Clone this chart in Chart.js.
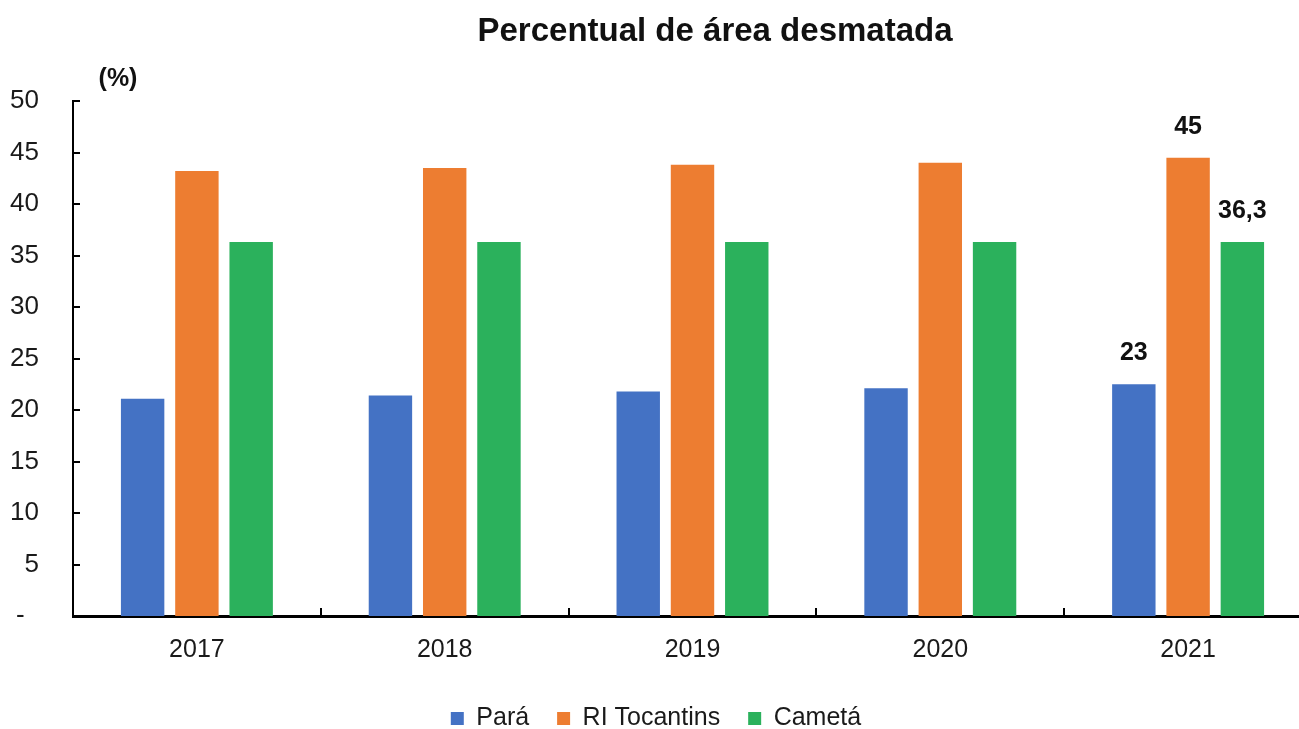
<!DOCTYPE html>
<html>
<head>
<meta charset="utf-8">
<script src="https://cdn.jsdelivr.net/npm/chart.js@4/dist/chart.umd.min.js"></script>
<style>
  html, body { margin: 0; padding: 0; background: #fff; overflow: hidden; }
  canvas { display: block; }
</style>
</head>
<body>
<canvas id="chart" width="1312" height="729"></canvas>
<script>
const years = ['2017', '2018', '2019', '2020', '2021'];
const para = [21.1, 21.4, 21.8, 22.1, 22.5];
const riTocantins = [43.2, 43.5, 43.8, 44.0, 44.5];
const cameta = [36.3, 36.3, 36.3, 36.3, 36.3];
const yTicks = [0, 5, 10, 15, 20, 25, 30, 35, 40, 45, 50];
// only the last year carries value labels; decimals per series
const labelDecimals = [0, 0, 1];

const chartTitle = 'Percentual de área desmatada';
const unitLabel = '(%)';
const FONT = '"Liberation Sans", Arial, sans-serif';

Chart.defaults.font.family = FONT;
Chart.defaults.color = '#1a1a1a';

const decor = {
  id: 'decor',
  afterDraw(chart) {
    const { ctx, chartArea } = chart;
    const x = chart.scales.x;
    const y = chart.scales.y;
    ctx.save();

    // tick marks point inward, like the original
    ctx.strokeStyle = '#000';
    ctx.lineWidth = 2;
    ctx.beginPath();
    yTicks.forEach((v) => {
      if (v === 0) return;
      const py = Math.round(y.getPixelForValue(v));
      ctx.moveTo(chartArea.left, py);
      ctx.lineTo(chartArea.left + 7, py);
    });
    for (let i = 0; i < years.length - 1; i++) {
      const px = Math.round((x.getPixelForValue(i) + x.getPixelForValue(i + 1)) / 2);
      ctx.moveTo(px, chartArea.bottom);
      ctx.lineTo(px, chartArea.bottom - 8);
    }
    ctx.stroke();

    // title and unit
    ctx.fillStyle = '#111';
    ctx.textAlign = 'center';
    ctx.textBaseline = 'middle';
    ctx.font = 'bold 33px ' + FONT;
    ctx.fillText(chartTitle, 715, 32);
    ctx.font = 'bold 25px ' + FONT;
    ctx.fillText(unitLabel, 118, 79);

    // value labels on the last year
    const last = years.length - 1;
    chart.data.datasets.forEach((ds, i) => {
      const bar = chart.getDatasetMeta(i).data[last];
      const d = labelDecimals[i];
      const v = d === 0 ? String(Math.round(ds.data[last])) : ds.data[last].toFixed(d).replace('.', ',');
      ctx.fillText(v, bar.x, bar.y - 31);
    });
    ctx.restore();
  }
};

const ctx = document.getElementById('chart').getContext('2d');
new Chart(ctx, {
  type: 'bar',
  data: {
    labels: years,
    datasets: [
      { label: 'Pará', data: para, backgroundColor: '#4472c4' },
      { label: 'RI Tocantins', data: riTocantins, backgroundColor: '#ed7d31' },
      { label: 'Cametá', data: cameta, backgroundColor: '#2bb15c' },
    ],
  },
  options: {
    responsive: false,
    animation: false,
    categoryPercentage: 0.657,
    barPercentage: 0.8,
    layout: {
      padding: { top: 101, left: 0, right: 0, bottom: -12 },
    },
    plugins: {
      title: { display: false },
      tooltip: { enabled: false },
      legend: {
        position: 'bottom',
        labels: {
          boxWidth: 13,
          boxHeight: 13,
          padding: 28,
          color: '#1a1a1a',
          font: { size: 25 },
        },
      },
    },
    scales: {
      x: {
        grid: { display: false, drawTicks: false },
        border: { color: '#000', width: 3 },
        ticks: { font: { size: 25 }, padding: 19, color: '#1a1a1a' },
        afterFit: (s) => { s.height = 62; },
      },
      y: {
        min: 0,
        max: 50,
        afterBuildTicks: (s) => { s.ticks = yTicks.map((v) => ({ value: v })); },
        grid: { display: false, drawTicks: false },
        border: { color: '#000', width: 2 },
        ticks: {
          font: { size: 26 },
          padding: 34,
          color: '#1a1a1a',
          callback: (v) => (v === 0 ? '-  ' : v),
        },
        afterFit: (s) => { s.width = 73; },
      },
    },
  },
  plugins: [decor],
});
</script>
</body>
</html>
